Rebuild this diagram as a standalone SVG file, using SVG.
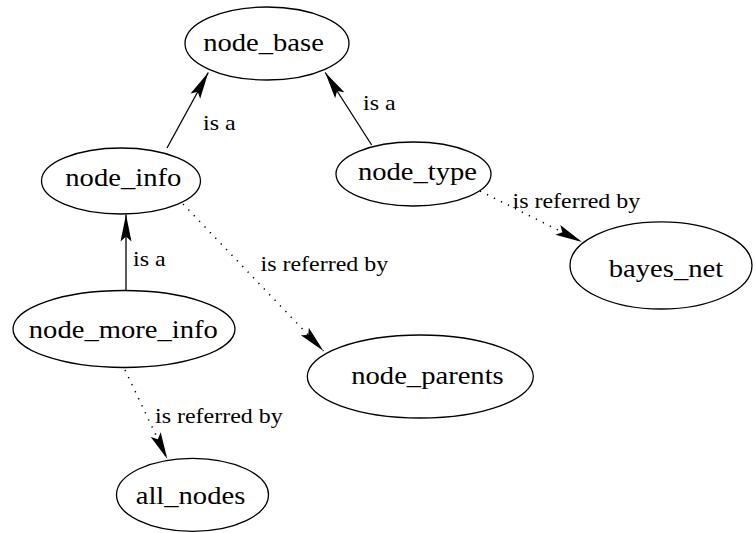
<svg xmlns="http://www.w3.org/2000/svg" width="756" height="533" viewBox="0 0 756 533">
  <style>
    .node ellipse { fill: #ffffff; stroke: #000000; stroke-width: 1.3; }
    .node text { font-family: "Liberation Serif", "Times New Roman", serif; font-size: 26px; fill: #000000; text-anchor: middle; }
    .edge { fill: none; stroke: #000000; stroke-width: 1.3; marker-end: url(#head); }
    .dotted { stroke-width: 1.5; stroke-dasharray: 1.3 6.5; }
    .label { font-family: "Liberation Serif", "Times New Roman", serif; font-size: 21.8px; fill: #000000; }
  </style>
  <defs>
    <!-- indented filled arrowhead, tip at the end of the line -->
    <marker id="head" markerUnits="userSpaceOnUse" orient="auto" markerWidth="30" markerHeight="14" refX="28" refY="7" overflow="visible">
      <path d="M1,1.5 L28,7 L1,12.5 L6,7 Z" fill="#000000" stroke="none"/>
    </marker>
  </defs>
  <rect width="756" height="533" fill="#ffffff"/>

  <g id="connectors">
    <line class="edge" x1="167" y1="148" x2="208.3" y2="72.5"/>
    <line class="edge" x1="371.7" y1="145" x2="325.2" y2="72.5"/>
    <line class="edge" x1="126" y1="291" x2="126" y2="214.5"/>
    <line class="edge dotted" x1="183" y1="204" x2="323.5" y2="351"/>
    <line class="edge dotted" x1="480" y1="191" x2="582" y2="242"/>
    <line class="edge dotted" x1="125" y1="370" x2="167.3" y2="459"/>
    <text class="label" transform="translate(203 130) scale(1.1 1)">is a</text>
    <text class="label" transform="translate(363 110) scale(1.1 1)">is a</text>
    <text class="label" transform="translate(133 266) scale(1.1 1)">is a</text>
    <text class="label" transform="translate(260.5 270.5) scale(1.1 1)">is referred by</text>
    <text class="label" transform="translate(512.5 208.3) scale(1.1 1)">is referred by</text>
    <text class="label" transform="translate(155 422.7) scale(1.1 1)">is referred by</text>
  </g>

  <g id="node_base" class="node">
    <ellipse cx="267" cy="43.5" rx="82" ry="36.5"/>
    <text transform="translate(263.5 51) scale(1.1 1)">node_base</text>
  </g>
  <g id="node_info" class="node">
    <ellipse cx="121" cy="181" rx="79.5" ry="33"/>
    <text transform="translate(123.3 186) scale(1.1 1)">node_info</text>
  </g>
  <g id="node_type" class="node">
    <ellipse cx="413.5" cy="174" rx="77.5" ry="32"/>
    <text transform="translate(417.5 180) scale(1.1 1)">node_type</text>
  </g>
  <g id="bayes_net" class="node">
    <ellipse cx="661" cy="265.4" rx="91" ry="43.6"/>
    <text transform="translate(666 277) scale(1.1 1)">bayes_net</text>
  </g>
  <g id="node_more_info" class="node">
    <ellipse cx="124" cy="329" rx="111" ry="38.5"/>
    <text transform="translate(123.3 337.5) scale(1.1 1)">node_more_info</text>
  </g>
  <g id="node_parents" class="node">
    <ellipse cx="420.3" cy="376.5" rx="113" ry="41.5"/>
    <text transform="translate(427.5 383.5) scale(1.1 1)">node_parents</text>
  </g>
  <g id="all_nodes" class="node">
    <ellipse cx="192.5" cy="494.8" rx="76" ry="36.5"/>
    <text transform="translate(190.5 503.5) scale(1.1 1)">all_nodes</text>
  </g>
</svg>
